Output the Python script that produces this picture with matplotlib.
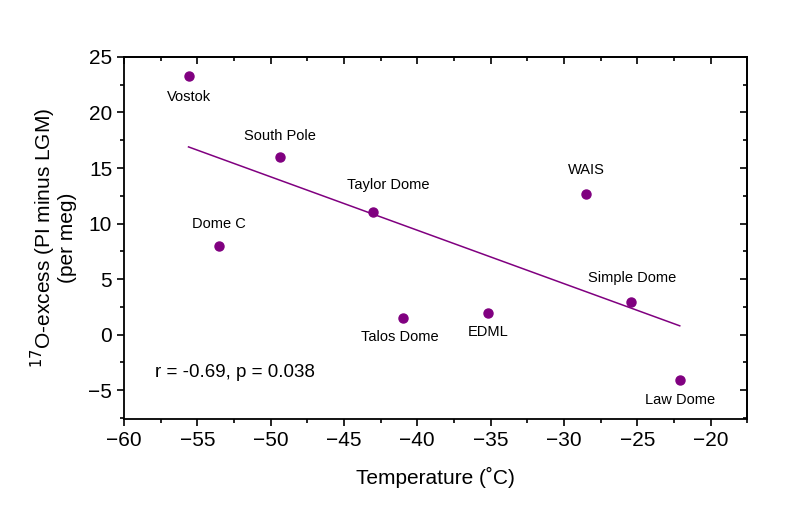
import matplotlib
matplotlib.use('Agg')
import matplotlib.pyplot as plt
import numpy as np

plt.rcParams['font.family'] = ['Liberation Sans', 'DejaVu Sans']

# ice core sites
sites = ['Vostok', 'South Pole', 'Taylor Dome', 'Dome C', 'Talos Dome',
         'EDML', 'WAIS', 'Simple Dome', 'Law Dome']
temperature = [-55.6, -49.35, -43.0, -53.5, -41.0, -35.15, -28.5, -25.4, -22.1]
o17_excess = [23.3, 16.0, 11.0, 8.0, 1.47, 1.92, 12.65, 2.95, -4.06]

# regression line as drawn in the figure
trend_x = [-55.6, -22.1]
trend_y = [16.9, 0.8]

# label offsets in pixels (dx, dy)
label_pos = {
    'Vostok': (0, -21), 'South Pole': (0, 21), 'Taylor Dome': (15, 27),
    'Dome C': (0, 22), 'Talos Dome': (-3, -19), 'EDML': (0, -19),
    'WAIS': (0, 24), 'Simple Dome': (1, 24), 'Law Dome': (0, -20),
}

purple = '#800080'

fig = plt.figure(figsize=(8, 5.22), dpi=100)
ax = fig.add_axes([0.155, 0.197, 0.779, 0.694])

ax.plot(trend_x, trend_y, color=purple, lw=1.1)
ax.plot(temperature, o17_excess, 'o', color=purple, ms=6.5, mec=purple)

for name, x, y in zip(sites, temperature, o17_excess):
    dx, dy = label_pos[name]
    ax.annotate(name, (x, y), xytext=(dx * 0.72, dy * 0.72), textcoords='offset points',
                ha='center', va='center', fontsize=10.5)

ax.text(0.05, 0.13, 'r = -0.69, p = 0.038', transform=ax.transAxes,
        fontsize=13.5, va='center', ha='left')

ax.set_xlim(-60, -17.5)
ax.set_ylim(-7.6, 25)
xt = np.arange(-60, -19, 5)
yt = np.arange(-5, 26, 5)
ax.set_xticks(xt)
ax.set_yticks(yt)
ax.set_xticks(np.arange(-57.5, -17, 5), minor=True)
ax.set_yticks(np.arange(-7.5, 25, 5), minor=True)
ax.set_xticklabels([f'\u2212{abs(v)}' if v < 0 else str(v) for v in xt])
ax.set_yticklabels([f'\u2212{abs(v)}' if v < 0 else str(v) for v in yt])
ax.tick_params(which='major', direction='out', length=5, width=1.2, labelsize=15)
ax.tick_params(which='minor', direction='out', length=3, width=1.2)

# top / right ticks point inward
top = ax.secondary_xaxis('top')
top.set_xticks(xt)
top.set_xticks(np.arange(-57.5, -17, 5), minor=True)
top.tick_params(which='both', direction='in', labeltop=False)
top.tick_params(which='major', length=5, width=1.2)
top.tick_params(which='minor', length=3, width=1.2)
right = ax.secondary_yaxis('right')
right.set_yticks(yt)
right.set_yticks(np.arange(-7.5, 25, 5), minor=True)
right.tick_params(which='both', direction='in', labelright=False)
right.tick_params(which='major', length=5, width=1.2)
right.tick_params(which='minor', length=3, width=1.2)

for s in ax.spines.values():
    s.set_linewidth(1.3)
top.spines['top'].set_linewidth(1.3)
right.spines['right'].set_linewidth(1.3)

ax.set_xlabel('Temperature (\u02daC)', fontsize=15, labelpad=12)
ax.set_ylabel('$^{17}$O-excess (PI minus LGM)\n(per meg)', fontsize=15, labelpad=8,
              linespacing=1.0)

fig.savefig('out.png', dpi=100)
